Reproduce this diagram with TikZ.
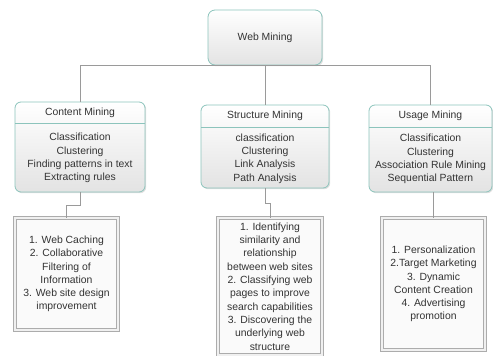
\documentclass[tikz,border=0pt]{standalone}
\usepackage{fontspec}
\setmainfont{Liberation Sans}
\usetikzlibrary{shadows}
\definecolor{edgeteal}{HTML}{8CC4BC}
\definecolor{linegray}{HTML}{9A9A9A}
\definecolor{textgray}{HTML}{333333}
\tikzset{
every node/.style={font=\fontsize{10.4}{13.3}\selectfont, text=textgray, align=center}, % arial-like text everywhere
topbox/.style={draw=edgeteal, thick, rounded corners=7pt, top color=white, bottom color=gray!22,
  drop shadow={opacity=0.25, shadow xshift=1.2pt, shadow yshift=-1.2pt}, inner sep=0pt, outer sep=0pt},
catbox/.style={topbox, rounded corners=6pt}, % the three mining boxes
headbox/.style={inner sep=0pt, outer sep=0pt}, % title strip of a mining box
appbox/.style={draw=gray!65, line width=0.9pt, double=gray!12, double distance=1.8pt, fill=gray!4, inner sep=0pt, outer sep=0pt},
link/.style={draw=linegray, line width=0.7pt}, % connectors
}

\begin{document}
\begin{tikzpicture}[x=1pt, y=-1pt]
        \useasboundingbox (0,0) rectangle (493,356);

        % root
        \node[topbox, minimum width=114, minimum height=55] (web) at (265,37.5) {Web Mining};

        % mining boxes
        \node[catbox, minimum width=130, minimum height=90] (content) at (80,147) {};
        \node[catbox, minimum width=128, minimum height=83] (structure) at (265,146.5) {};
        \node[catbox, minimum width=123, minimum height=87] (usage) at (430.5,148.5) {};

        \node[headbox, minimum width=130, minimum height=21, anchor=north] (contenth) at (content.north) {Content Mining};
        \node[headbox, minimum width=128, minimum height=22, anchor=north] (structureh) at (structure.north) {Structure Mining};
        \node[headbox, minimum width=123, minimum height=22, anchor=north] (usageh) at (usage.north) {Usage Mining};
        \draw[edgeteal, thick] (contenth.south west) -- (contenth.south east);
        \draw[edgeteal, thick] (structureh.south west) -- (structureh.south east);
        \draw[edgeteal, thick] (usageh.south west) -- (usageh.south east);

        \node (contentb) at (80,158) {Classification\\Clustering\\Finding patterns in text\\Extracting rules};
        \node (structureb) at (265,158.5) {classification\\Clustering\\Link Analysis\\Path Analysis};
        \node (usageb) at (430.5,159) {Classification\\Clustering\\Association Rule Mining\\Sequential Pattern};

        % applications
        \node[appbox, minimum width=103, minimum height=112] (contenta) at (66.5,274)
          {1. Web Caching\\2. Collaborative\\Filtering of\\Information\\3. Web site design\\improvement};
        \node[appbox, minimum width=104, minimum height=137] (structurea) at (270,286.5)
          {1. Identifying\\similarity and\\relationship\\between web sites\\2. Classifying web\\pages to improve\\search capabilities\\3. Discovering the\\underlying web\\structure};
        \node[appbox, minimum width=103, minimum height=132] (usagea) at (433.5,284)
          {1. Personalization\\2.Target Marketing\\3. Dynamic\\Content Creation\\4. Advertising\\promotion};

        % connectors
        \coordinate (bus) at (266,65.5);
        \draw[link] (web.south) -- (structure.north);
        \draw[link] (content.north) |- (bus) -| (usage.north);
        \draw[link] (content.south) -- ++(0,13) -| (contenta.north);
        \draw[link] (structure.south) -- ++(0,15) -| (structurea.north);
        \draw[link] (usagea.north |- usage.south) -- (usagea.north);
      \end{tikzpicture}
\end{document}
